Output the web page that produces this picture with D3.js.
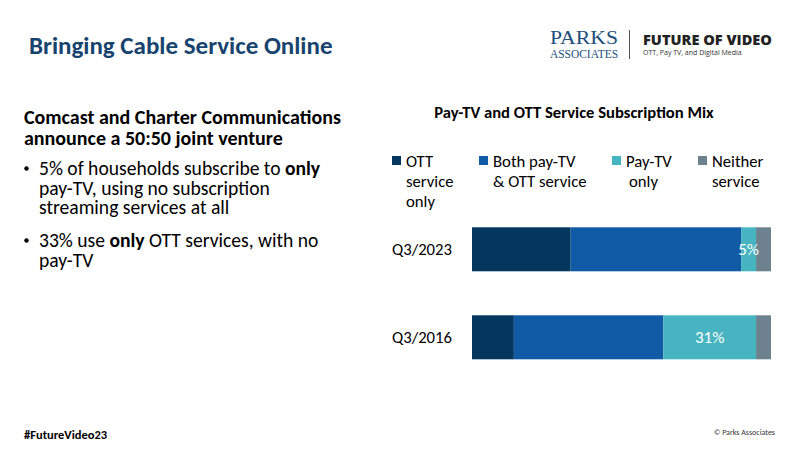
<!DOCTYPE html>
<html>
<head>
<meta charset="utf-8">
<script src="https://cdn.jsdelivr.net/npm/d3@7"></script>
<style>
  body { margin: 0; background: #fff; }
  svg { display: block; font-family: Calibri, Carlito, Lato, sans-serif; }
</style>
</head>
<body>
<div id="chart"></div>
<script>
const categories = ['Q3/2023', 'Q3/2016'];
const seriesNames = [['OTT', 'service', 'only'], ['Both pay-TV', '& OTT service'], ['Pay-TV', 'only'], ['Neither', 'service']];
const ottOnly = [33, 14];
const bothServices = [57, 50];
const payTvOnly = [5, 31];
const neither = [5, 5];
const colors = ['#03375f', '#115aa6', '#47b5c1', '#6e818e'];

const width = 800, height = 450;
const svg = d3.select('#chart').append('svg')
  .attr('width', width).attr('height', height);

// header
svg.append('text').attr('x', 29).attr('y', 54)
  .attr('font-size', 25).attr('font-weight', 'bold').attr('fill', '#17446f')
  .text('Bringing Cable Service Online');

// logo
const logo = svg.append('g');
logo.append('text').attr('x', 584).attr('y', 44).attr('text-anchor', 'middle')
  .attr('font-family', '"Liberation Serif", "DejaVu Serif", serif')
  .attr('font-size', 18).attr('fill', '#1d4f7c').attr('textLength', 68)
  .attr('lengthAdjust', 'spacingAndGlyphs').text('PARKS');
logo.append('text').attr('x', 584).attr('y', 58).attr('text-anchor', 'middle')
  .attr('font-family', '"Liberation Serif", "DejaVu Serif", serif')
  .attr('font-size', 11.5).attr('fill', '#1d4f7c').attr('textLength', 68)
  .attr('lengthAdjust', 'spacingAndGlyphs').text('ASSOCIATES');
logo.append('line').attr('x1', 629.5).attr('x2', 629.5).attr('y1', 30).attr('y2', 59)
  .attr('stroke', '#555').attr('stroke-width', 1);
logo.append('text').attr('x', 643).attr('y', 45)
  .attr('font-family', '"Open Sans", sans-serif').attr('font-size', 14).attr('font-weight', 800)
  .attr('fill', '#222').attr('textLength', 129).attr('lengthAdjust', 'spacingAndGlyphs')
  .text('FUTURE OF VIDEO');
logo.append('text').attr('x', 643).attr('y', 55)
  .attr('font-family', '"Open Sans", sans-serif').attr('font-size', 7)
  .attr('fill', '#333').text('OTT, Pay TV, and Digital Media');

// left text block
const lead = svg.append('text').attr('font-size', 20).attr('font-weight', 'bold').attr('fill', '#000');
lead.append('tspan').attr('x', 24).attr('y', 123.5).text('Comcast and Charter Communications');
lead.append('tspan').attr('x', 24).attr('y', 144.5).text('announce a 50:50 joint venture');

const bullets = [
  [[['5% of households subscribe to ', false], ['only', true]],
   [['pay-TV, using no subscription', false]],
   [['streaming services at all', false]]],
  [[['33% use ', false], ['only', true], [' OTT services, with no', false]],
   [['pay-TV', false]]]
];
const bulletY = [175, 247];
bullets.forEach((b, bi) => {
  svg.append('circle').attr('cx', 26.5).attr('cy', bulletY[bi] - 6.5).attr('r', 2.2).attr('fill', '#000');
  b.forEach((line, li) => {
    const t = svg.append('text').attr('x', 39).attr('y', bulletY[bi] + li * 19.5)
      .attr('font-size', 19.6).attr('fill', '#000');
    line.forEach(([s, bold]) => t.append('tspan')
      .attr('font-weight', bold ? 'bold' : 'normal').text(s));
  });
});

// chart
svg.append('text').attr('x', 574).attr('y', 117.5).attr('text-anchor', 'middle')
  .attr('font-size', 16.6).attr('font-weight', 'bold').text('Pay-TV and OTT Service Subscription Mix');

const series = [ottOnly, bothServices, payTvOnly, neither];
const rows = categories.map((c, i) => {
  const r = { cat: c };
  series.forEach((s, k) => r['s' + k] = s[i]);
  return r;
});
const keys = series.map((s, k) => 's' + k);
const stacked = d3.stack().keys(keys)(rows);

const x = d3.scaleLinear().domain([0, 100]).range([472, 771]);
const y = d3.scaleBand().domain(categories).range([205.3, 381.3])
  .paddingInner(0.5).paddingOuter(0.25);

const layers = svg.append('g').selectAll('g').data(stacked).enter().append('g')
  .attr('fill', (d, i) => colors[i]);
layers.selectAll('rect').data(d => d).enter().append('rect')
  .attr('x', d => x(d[0])).attr('width', d => x(d[1]) - x(d[0]))
  .attr('y', d => y(d.data.cat)).attr('height', y.bandwidth());

// data labels on pay-TV only segment
svg.append('g').selectAll('text').data(stacked[2]).enter().append('text')
  .attr('x', d => (x(d[0]) + x(d[1])) / 2)
  .attr('y', d => y(d.data.cat) + y.bandwidth() / 2 + 6)
  .attr('text-anchor', 'middle').attr('font-size', 17).attr('fill', '#fff')
  .text(d => d[1] - d[0] + '%');

// category axis
const yAxis = svg.append('g').attr('transform', 'translate(452,0)')
  .call(d3.axisLeft(y).tickSize(0).tickPadding(0));
yAxis.select('.domain').remove();
yAxis.selectAll('text').attr('font-size', 16.7).attr('fill', '#000')
  .attr('font-family', 'Calibri, Carlito, Lato, sans-serif');

// legend
const legendX = [392, 479, 612, 698];
const lg = svg.append('g').selectAll('g').data(seriesNames).enter().append('g')
  .attr('transform', (d, i) => `translate(${legendX[i]},0)`);
lg.append('rect').attr('x', 0).attr('y', 156).attr('width', 9).attr('height', 9)
  .attr('fill', (d, i) => colors[i]);
lg.each(function (lines, i) {
  const t = d3.select(this).append('text').attr('font-size', 16.7).attr('fill', '#000');
  lines.forEach((s, li) => t.append('tspan')
    .attr('x', i === 2 && li === 1 ? 17 : 14).attr('y', 166.5 + li * 20).text(s));
});

// footer
svg.append('text').attr('x', 24).attr('y', 439).attr('font-size', 12.5)
  .attr('font-weight', 'bold').text('#FutureVideo23');
svg.append('text').attr('x', 775).attr('y', 435).attr('text-anchor', 'end')
  .attr('font-size', 8).attr('fill', '#333').text('© Parks Associates');
</script>
</body>
</html>
